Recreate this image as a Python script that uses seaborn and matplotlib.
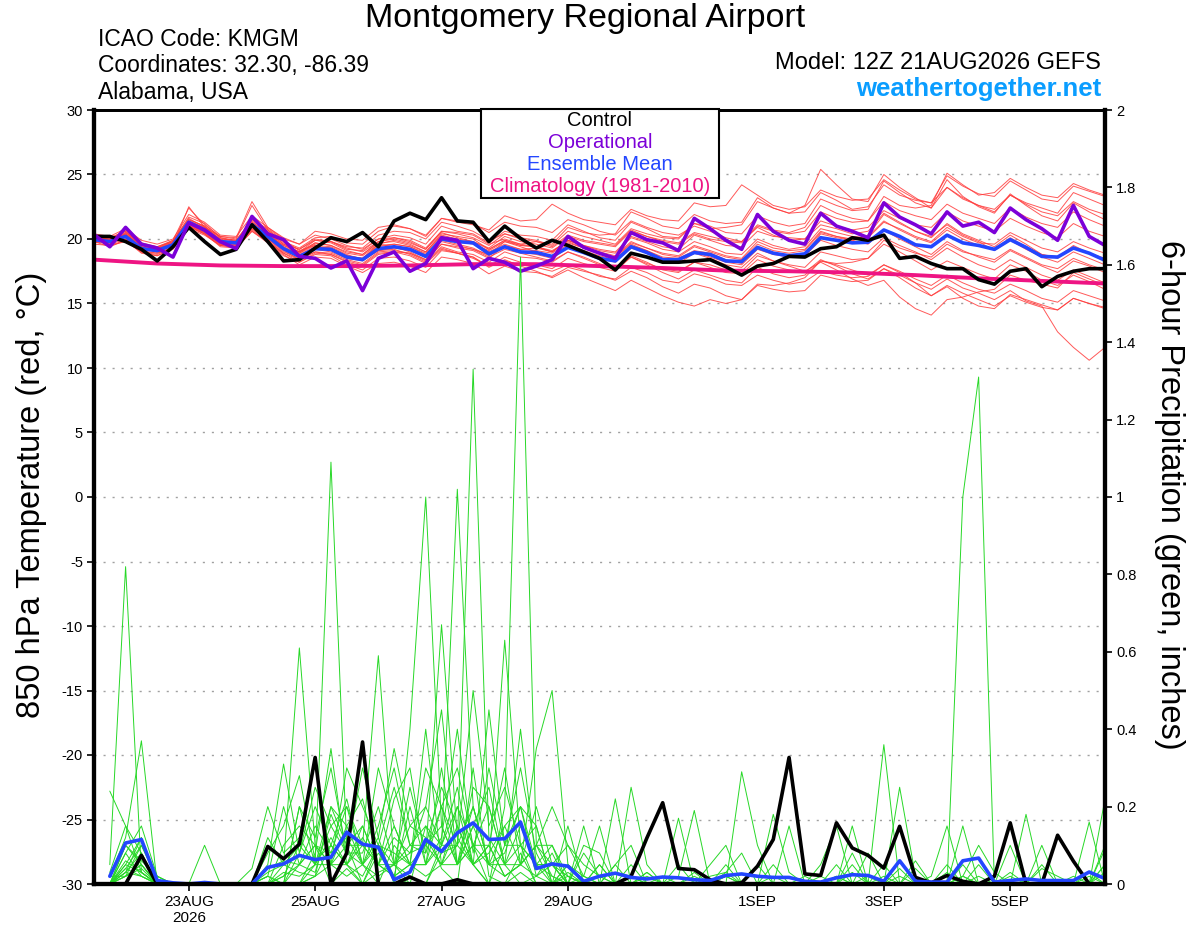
import matplotlib
matplotlib.use("Agg")
import matplotlib.pyplot as plt
from matplotlib.patches import Rectangle
import seaborn as sns
import pandas as pd

# 6-hourly valid times, GEFS 12Z 21AUG2026 run
times = pd.date_range("2026-08-21 12:00", periods=65, freq="6h")
climo_times = pd.date_range("2026-08-21 12:00", periods=17, freq="D")

# 850 hPa temperature (C)
control_t = [20.2,20.2,19.8,19.2, 18.3,19.4,20.9,19.8, 18.8,19.2,21.1,19.8, 18.3,18.4,19.3,20.1,
             19.8,20.5,19.4,21.4, 22.0,21.5,23.2,21.4, 21.3,19.8,21.0,20.05, 19.3,19.9,19.5,19.0,
             18.5,17.6,18.9,18.6, 18.2,18.2,18.3,18.4, 17.85,17.2,17.9,18.1, 18.65,18.6,19.25,19.4,
             20.1,19.9,20.3,18.5, 18.65,18.1,17.7,17.7, 16.85,16.5,17.5,17.7, 16.3,17.1,17.5,17.7, 17.7]
oper_t = [20.35,19.4,20.9,19.6, 19.3,18.6,21.25,20.7, 19.8,19.25,21.75,20.4, 19.95,18.65,18.5,17.75,
          18.3,16.0,18.5,19.0, 17.5,18.1,20.1,19.9, 17.7,18.5,18.2,17.5, 17.9,18.4,20.2,19.35,
          18.9,18.5,20.5,19.95, 19.7,19.1,21.6,20.8, 19.9,19.2,21.9,20.6, 19.9,19.6,22.0,21.0,
          20.6,20.1,22.8,21.7, 21.1,20.4,22.1,21.0, 21.3,20.5,22.4,21.5, 20.8,19.9,22.6,20.2, 19.5]
mean_t = [19.95,19.8,20.2,19.25, 19.1,19.55,21.3,20.7, 19.8,19.7,21.1,20.2, 19.25,18.65,19.25,19.2,
          18.6,18.4,19.25,19.4, 19.2,18.65,20.0,19.8, 19.7,18.85,19.4,19.0, 18.95,18.65,19.35,18.95,
          18.5,18.3,19.4,18.95, 18.4,18.4,18.95,18.8, 18.3,18.25,19.35,18.9, 18.7,18.85,20.1,19.9,
          19.7,19.75,20.7,20.2, 19.55,19.4,20.3,19.7, 19.5,19.2,19.95,19.35, 18.65,18.6,19.3,18.9, 18.35]
climo_t = [18.4,18.1,17.95,17.9,17.9,17.95,18.05,18.05,17.9,17.75,17.55,17.5,17.4,17.2,16.95,16.75,16.55]

m01 = [20.1,19.6,20.5,19.6, 19.3,19.9,21.6,20.9, 20.0,19.9,21.4,20.6, 19.6,19.0,19.9,19.8, 19.2,19.1,20.0,20.3, 20.1,19.6,21.0,20.6, 20.4,19.7,20.6,20.3, 20.2,19.9,21.1,20.6, 20.1,19.9,21.3,20.8, 20.2,20.1,21.2,21.0, 20.5,20.4,21.8,21.3, 21.0,21.2,23.1,22.6, 22.2,22.3,24.5,23.6, 22.8,22.4,24.0,23.1, 22.6,22.1,23.4,22.8, 22.4,22.0,23.6,23.1, 22.6]
m02 = [19.8,19.9,20.0,19.0, 18.9,19.3,20.9,20.4, 19.5,19.3,20.6,19.8, 18.9,18.2,18.8,18.7, 18.0,17.6,18.5,18.6, 18.3,17.8,19.1,18.9, 18.6,17.9,18.3,18.0, 17.8,17.5,18.0,17.6, 17.1,16.9,17.8,17.4, 16.8,16.6,17.3,17.0, 16.5,16.4,17.2,16.8, 16.5,16.7,17.5,17.2, 17.0,17.1,18.0,17.5, 16.9,16.4,17.2,16.6, 16.1,15.8,16.5,16.0, 15.4,15.1,16.0,15.6, 15.2]
m03 = [20.2,20.1,20.6,19.5, 19.2,19.8,21.5,21.0, 19.9,19.6,21.0,20.3, 19.5,19.0,19.6,19.8, 19.3,19.0,19.8,20.1, 19.9,19.3,20.6,20.5, 20.3,19.6,20.0,19.6, 19.4,19.0,19.9,19.4, 18.9,18.6,19.6,19.1, 18.6,18.5,19.1,18.9, 18.4,18.1,19.3,18.9, 18.6,18.8,20.4,20.1, 19.9,20.3,21.9,21.2, 20.6,20.1,21.2,20.4, 19.9,19.4,20.3,19.6, 18.8,18.6,19.5,18.9, 18.5]
m04 = [19.9,19.7,20.3,19.4, 19.0,19.5,22.5,20.9, 20.2,20.0,22.6,20.7, 19.8,19.3,20.1,20.2, 19.7,19.6,20.6,21.0, 20.8,20.2,21.6,21.4, 21.2,20.5,21.3,21.0, 20.9,20.5,21.5,21.1, 20.6,20.3,21.4,20.9, 20.5,20.3,21.0,20.6, 20.1,19.8,20.9,20.3, 19.9,20.0,21.1,20.8, 20.4,20.6,22.0,21.3, 20.6,20.2,21.1,20.3, 19.8,19.1,19.9,19.2, 18.6,18.2,19.0,18.5, 18.0]
m05 = [20.0,19.5,19.8,19.0, 18.8,19.4,21.0,20.5, 19.6,19.5,20.7,19.8, 18.8,18.0,18.6,18.5, 17.9,17.4,18.1,18.2, 17.9,17.4,18.6,18.4, 18.1,17.3,17.9,17.5, 17.4,17.1,17.8,17.5, 17.2,16.8,17.5,17.0, 16.3,15.8,16.5,16.2, 15.6,15.3,16.4,16.1, 15.9,16.0,17.2,16.9, 16.7,16.8,17.7,17.2, 16.6,16.1,16.9,16.2, 15.8,15.3,16.0,15.2, 14.8,12.8,11.6,10.6, 11.6]
m06 = [20.3,19.9,20.4,19.3, 19.0,19.7,21.2,20.6, 19.7,19.8,21.3,20.5, 19.4,18.9,19.5,19.1, 18.6,18.5,19.6,19.4, 19.0,18.4,19.6,19.3, 19.1,18.5,19.5,19.2, 19.3,19.0,19.9,19.5, 19.1,18.9,20.1,19.7, 19.2,19.0,19.8,19.4, 18.9,18.8,20.0,19.5, 19.2,19.4,20.8,20.5, 20.2,20.1,21.3,20.8, 20.2,19.8,20.9,20.2, 19.7,19.6,20.5,19.9, 19.3,19.0,19.8,19.3, 18.9]
m07 = [19.7,19.9,20.1,19.2, 19.3,19.6,21.1,20.5, 19.6,19.4,20.8,19.9, 18.9,18.4,19.0,18.8, 18.2,17.9,18.8,19.0, 18.9,18.3,19.4,19.0, 18.8,18.2,19.0,18.6, 18.5,18.2,19.0,18.6, 18.1,17.6,18.7,18.2, 17.6,17.4,18.2,18.0, 17.6,17.5,18.7,18.3, 18.0,17.8,19.0,18.7, 18.4,18.5,19.6,19.0, 18.3,17.6,18.3,17.8, 17.3,16.9,18.0,17.5, 16.8,16.4,17.2,16.7, 16.1]
m08 = [20.1,19.8,20.2,19.3, 19.1,19.5,21.2,20.6, 19.7,19.8,21.2,20.4, 19.3,18.9,19.7,19.5, 18.9,18.7,19.6,19.9, 19.6,19.0,20.4,20.2, 20.0,19.2,19.9,19.6, 19.8,19.6,20.9,20.5, 20.3,20.4,22.1,21.6, 21.0,20.8,21.9,21.4, 21.2,21.3,23.2,22.4, 22.0,22.6,25.4,24.2, 23.1,22.9,25.0,24.0, 23.2,22.4,24.6,23.3, 22.5,22.0,23.5,22.6, 21.8,21.4,22.8,22.1, 21.5]
m09 = [19.9,20.0,20.7,19.7, 19.4,19.8,21.7,21.2, 20.1,19.9,21.5,20.8, 19.9,19.1,19.5,19.4, 18.8,18.4,19.1,19.3, 19.1,18.6,19.8,19.5, 19.2,18.6,19.2,18.9, 18.6,18.3,19.0,18.5, 18.0,17.7,18.6,18.0, 17.4,16.9,17.6,17.2, 16.8,16.6,17.8,17.3, 17.0,17.2,18.3,18.0, 17.6,17.2,18.0,17.4, 16.6,15.6,16.3,15.4, 14.8,14.6,15.7,15.3, 14.9,14.5,15.4,15.0, 14.6]
m10 = [20.0,19.7,20.4,19.5, 19.2,19.7,21.4,20.8, 20.0,19.9,21.5,20.7, 19.7,19.2,20.0,19.8, 19.4,19.3,20.3,20.6, 20.5,20.0,21.3,21.0, 20.6,19.9,20.4,20.1, 19.9,19.5,20.6,20.2, 19.9,19.6,20.8,20.4, 20.1,20.0,21.2,20.8, 20.9,21.1,22.9,22.4, 22.0,22.1,23.6,23.0, 22.3,22.5,24.2,23.4, 23.0,22.8,24.9,24.1, 23.5,23.3,24.5,23.8, 23.1,22.9,24.1,23.7, 23.3]
m11 = [20.4,20.2,20.8,19.9, 19.6,20.0,21.9,21.3, 20.3,20.2,21.8,20.9, 20.1,19.6,20.3,20.0, 19.5,19.2,20.0,20.1, 19.8,19.2,20.5,20.1, 19.8,19.2,19.9,19.5, 19.4,19.0,19.9,19.5, 19.2,19.0,20.2,19.8, 19.4,19.2,20.3,19.9, 19.5,19.4,20.6,20.2, 20.1,20.0,21.4,21.0, 20.7,20.9,22.2,21.6, 21.1,20.9,22.1,21.4, 21.0,20.6,21.6,21.0, 20.5,20.1,21.2,20.6, 20.2]
m12 = [19.6,19.5,19.9,19.0, 18.7,19.2,20.8,20.3, 19.5,19.4,20.8,20.0, 19.0,18.5,19.2,19.0, 18.5,18.3,19.1,19.2, 18.8,18.2,19.3,18.9, 18.6,17.8,18.4,17.9, 17.5,17.0,17.6,17.0, 16.5,16.0,16.8,16.2, 15.6,15.1,14.8,15.3, 15.0,15.3,16.5,16.4, 16.6,17.0,18.3,18.1, 18.2,18.5,19.9,19.3, 18.9,18.6,19.6,19.0, 18.7,18.4,19.2,18.6, 18.0,17.7,18.5,18.0, 17.6]
m13 = [20.2,20.0,20.5,19.6, 19.4,19.9,22.4,21.1, 20.2,20.1,22.9,20.9, 20.0,19.6,20.6,20.4, 20.0,19.9,20.9,21.1, 20.8,20.3,21.6,21.3, 21.1,20.7,21.8,21.4, 21.5,22.7,22.0,21.5, 21.3,21.1,22.3,21.8, 21.5,21.4,22.8,22.5, 22.6,24.2,23.4,22.6, 22.3,22.5,23.8,23.3, 23.0,23.1,24.6,23.8, 23.1,22.8,24.0,23.2, 22.6,22.3,23.4,22.7, 22.1,21.8,22.9,22.3, 21.9]
m14 = [19.8,19.6,20.0,19.1, 18.9,19.4,21.0,20.4, 19.5,19.6,21.0,20.1, 19.2,18.6,19.4,19.3, 18.7,18.5,19.4,19.6, 19.4,18.8,20.0,19.8, 19.6,19.1,19.8,19.4, 19.0,18.7,19.6,19.1, 18.7,18.4,19.5,19.1, 18.5,18.3,19.0,18.6, 18.2,18.0,19.2,18.8, 18.6,18.7,19.9,19.5, 19.2,19.0,20.1,19.5, 19.0,18.4,19.3,18.6, 18.0,17.6,18.4,17.8, 17.2,16.8,17.6,17.1, 16.6]
m15 = [20.0,19.8,20.3,19.4, 19.1,19.6,21.3,20.7, 19.8,19.7,21.1,20.2, 19.2,18.7,19.3,19.2, 18.6,18.4,19.3,19.4, 19.2,18.7,19.9,19.6, 19.3,18.7,19.4,19.0, 18.8,18.5,19.3,18.9, 18.5,18.2,19.3,18.9, 18.3,18.1,18.9,18.5, 18.0,17.8,18.9,18.3, 17.9,17.5,18.2,17.6, 16.9,16.4,16.8,15.5, 14.6,14.1,15.3,15.5, 15.9,16.1,17.2,16.8, 16.5,16.2,17.4,16.9, 16.4]
m16 = [20.1,20.0,20.6,19.6, 19.3,19.8,21.5,21.0, 20.1,19.8,21.3,20.5, 19.6,19.2,19.9,19.7, 19.1,18.8,19.7,19.8, 19.5,19.0,20.3,20.0, 19.8,19.3,20.2,19.8, 19.6,19.3,20.2,19.8, 19.6,19.4,20.6,20.2, 19.9,19.7,20.5,20.2, 19.9,19.8,21.1,20.7, 20.5,20.9,22.6,22.0, 21.6,21.4,22.9,22.2, 21.8,21.5,22.7,22.0, 21.6,21.2,22.4,21.7, 21.2,20.9,22.1,21.5, 21.0]
m17 = [19.9,19.7,20.2,19.2, 19.0,19.5,21.1,20.5, 19.6,19.5,20.9,20.0, 19.1,18.4,19.0,18.9, 18.4,18.1,19.0,19.1, 18.9,18.4,19.6,19.4, 19.2,18.8,19.8,19.5, 19.4,19.1,19.8,19.3, 18.9,18.6,19.7,19.3, 18.9,18.7,19.5,19.1, 18.7,18.5,19.8,19.3, 19.1,19.2,20.6,20.2, 19.9,19.6,20.7,20.0, 19.4,18.8,19.8,19.1, 18.6,18.2,19.1,18.5, 17.9,17.4,18.3,17.9, 17.4]
m18 = [20.0,19.9,20.4,19.5, 19.2,19.7,21.4,20.9, 19.9,19.8,21.2,20.4, 19.5,19.0,19.7,19.5, 19.0,18.8,19.8,20.0, 19.7,19.2,20.6,20.4, 20.1,19.5,20.4,20.0, 19.8,19.4,20.3,19.9, 19.7,19.5,20.7,20.2, 19.8,19.6,20.4,20.0, 19.8,19.7,21.0,20.6, 20.4,20.6,22.1,21.6, 21.3,21.4,23.3,22.6, 22.4,22.6,25.1,24.2, 23.4,23.6,24.7,24.0, 23.4,23.2,24.3,23.8, 23.4]
m19 = [19.8,19.4,19.9,18.9, 18.7,19.3,21.0,20.4, 19.4,19.3,20.6,19.7, 18.7,18.2,18.9,18.8, 18.3,18.0,18.9,19.0, 18.7,18.1,19.2,18.9, 18.5,17.9,18.6,18.2, 18.0,17.7,18.5,18.1, 17.8,17.5,18.6,18.1, 17.7,17.5,18.2,17.8, 17.4,17.3,18.4,17.9, 17.6,17.4,18.4,17.9, 17.3,16.9,17.7,17.0, 16.2,15.6,16.4,15.8, 15.3,14.8,15.6,15.1, 14.7,14.5,15.4,15.0, 14.7]
m20 = [20.0,19.9,20.3,19.4, 19.1,19.6,21.3,20.7, 19.8,19.6,21.0,20.2, 19.3,18.8,19.4,19.3, 18.7,18.5,19.5,19.6, 19.4,18.9,20.2,19.9, 19.7,19.0,19.6,19.2, 19.1,18.9,19.7,19.3, 19.0,18.7,19.8,19.3, 18.8,18.6,19.4,19.0, 18.6,18.4,19.6,19.1, 18.9,19.1,20.5,20.2, 20.0,20.2,21.4,20.7, 20.1,19.7,20.7,20.0, 19.5,19.2,20.1,19.4, 18.8,18.5,19.4,18.9, 18.4]
temp_members = [m01, m02, m03, m04, m05, m06, m07, m08, m09, m10,
                m11, m12, m13, m14, m15, m16, m17, m18, m19, m20]

# 6-hour precipitation (inches), valid at times[1:]
control_p = [0,0,0.074,0, 0,0,0,0, 0,0,0.097,0.065, 0.103,0.327,0,0.08, 0.367,0,0,0.018, 0,0,0.011,0,
             0,0,0,0, 0,0,0,0, 0,0.02,0.119,0.21, 0.04,0.037,0.011,0, 0.003,0.046,0.115,0.327,
             0.026,0.022,0.158,0.093, 0.074,0.041,0.149,0.017, 0.003,0.022,0.007,0, 0.02,0.158,0,0, 0.126,0.059,0,0]
mean_p = [0.02,0.106,0.115,0.009, 0.003,0,0.004,0, 0,0,0.043,0.052, 0.074,0.063,0.069,0.134, 0.103,0.095,0.011,0.031,
          0.115,0.084,0.132,0.158, 0.115,0.117,0.16,0.04, 0.052,0.046,0.007,0.02, 0.028,0.017,0.013,0.018,
          0.016,0.011,0.009,0.022, 0.026,0.02,0.017,0.017, 0.007,0.005,0.016,0.024, 0.022,0.007,0.06,0.007,
          0.005,0.005,0.06,0.067, 0.005,0.009,0.013,0.009, 0.009,0.009,0.031,0.014]

p01 = [0.05,0.82,0.03,0, 0,0,0,0, 0,0,0.12,0.05, 0.61,0.1,0,0.04, 0,0.08,0.02,0, 0,0.1,0.25,0.05, 0,0,0.03,0, 0,0,0,0, 0,0.05,0,0, 0,0,0,0.02, 0,0,0,0, 0,0,0,0.03, 0,0,0.04,0, 0,0,0,0, 0,0,0,0, 0,0,0.03,0]
p02 = [0.02,0.12,0.37,0, 0,0,0,0, 0,0.04,0.2,0.08, 0.12,0.05,1.09,0.1, 0,0.03,0.05,0, 0.15,0.04,0,0.3, 0.02,0,0.08,0, 0,0.02,0,0, 0.05,0,0,0, 0,0.03,0,0, 0,0,0,0.15, 0,0,0.02,0, 0,0,0,0, 0,0,0.02,0, 0,0,0,0, 0,0,0,0]
p03 = [0.24,0.15,0.03,0, 0,0,0.1,0, 0,0,0.05,0.31, 0.08,0.25,0.15,0.2, 0.1,0.59,0.05,0.02, 0,0.08,0.1,1.33, 0.12,0.05,0,0.02, 0.08,0,0,0, 0,0.02,0,0, 0,0,0,0, 0,0,0.05,0, 0,0,0,0, 0.02,0,0,0, 0,0,0,0, 0,0,0,0.05, 0,0,0,0]
p04 = [0,0.08,0.15,0.02, 0,0,0,0, 0,0,0.02,0, 0.2,0.12,0.3,0.08, 0.3,0.12,0,0.4, 1.0,0.15,0.05,0.1, 0,0.2,1.62,0.1, 0.05,0,0,0.02, 0,0,0,0, 0,0,0,0, 0,0,0,0, 0,0,0,0, 0,0.02,0,0.04, 0,0,0,0, 0,0.03,0,0, 0,0,0,0]
p05 = [0,0.02,0.1,0.02, 0,0,0,0, 0,0,0.08,0.15, 0.28,0.06,0.1,0.22, 0.05,0.15,0.3,0.1, 0.08,0.67,0.12,0.05, 0.45,0.1,0.3,0.08, 0,0.05,0.02,0, 0.22,0,0,0, 0,0,0,0.02, 0,0,0,0, 0,0,0,0, 0,0.36,0,0, 0,0,0.02,0, 0,0,0,0, 0,0,0,0.05]
p06 = [0,0.1,0.05,0, 0,0,0,0, 0,0,0,0.02, 0.1,0.32,0.05,0.15, 0.22,0.05,0.12,0.08, 0.2,0.1,1.02,0.2, 0.05,0.63,0.1,0.05, 0.1,0,0.02,0.15, 0,0,0.03,0, 0.17,0,0,0, 0,0,0,0, 0,0,0,0.15, 0,0,0,0, 0,0,0.05,0, 0,0,0,0, 0,0.02,0,0]
p07 = [0,0.05,0.12,0, 0,0,0,0, 0,0,0.04,0.06, 0.05,0.03,0.18,0.08, 0.08,0.2,0.05,0.15, 0.12,0.05,0.2,0.1, 0.1,0.02,0.05,0.35, 0.5,0.05,0,0, 0,0,0,0, 0,0.02,0,0, 0.29,0.1,0,0, 0,0,0,0, 0,0,0,0, 0,0,0,0, 0,0,0,0, 0,0,0,0.22]
p08 = [0.03,0.15,0.08,0, 0,0,0,0, 0,0,0,0.1, 0.15,0.1,0.05,0.3, 0.2,0.1,0.08,0.05, 0.3,0.2,0.1,0.05, 0.08,0.15,0.05,0.02, 0.05,0.02,0,0, 0,0.25,0.05,0, 0,0,0,0, 0,0,0.18,0.03, 0,0,0.02,0, 0,0,0.25,0.02, 0,0,0,0, 0,0,0,0.1, 0,0,0,0]
p09 = [0,0.02,0.05,0, 0,0,0,0, 0,0,0,0, 0,0.08,0.35,0.05, 0.12,0.05,0.22,0.3, 0.05,0.3,0.05,0.25, 0.2,0.05,0.1,0, 0,0.03,0,0, 0,0,0,0, 0.02,0.19,0,0, 0,0,0,0, 0,0,0,0, 0,0,0,0, 0,0,1.0,1.31, 0,0,0,0, 0,0,0,0]
p10 = [0,0.08,0.02,0, 0,0,0,0, 0,0,0.02,0.2, 0.05,0.15,0.08,0.12, 0.05,0.3,0.15,0.05, 0.4,0.05,0.15,0.05, 0.1,0.3,0.05,0.1, 0.02,0,0.15,0, 0,0,0,0, 0,0,0,0, 0,0.05,0,0, 0,0,0,0.05, 0,0,0,0, 0.02,0.15,0,0, 0,0,0.18,0, 0,0,0,0]
p11 = [0,0.03,0.12,0, 0,0,0,0, 0,0,0,0, 0.2,0.05,0.12,0.05, 0.15,0.05,0.02,0.2, 0.05,0.12,0.4,0.08, 0.3,0.1,0.2,0.05, 0.05,0.1,0.02,0, 0,0,0,0.02, 0,0,0,0.05, 0,0,0,0, 0,0,0,0, 0.08,0,0,0, 0,0,0,0, 0,0,0,0, 0,0,0,0.09]
p12 = [0,0.05,0.03,0, 0,0,0,0, 0,0,0.03,0.05, 0.03,0.02,0.2,0.15, 0.05,0.12,0.35,0.15, 0.2,0.45,0.05,0.1, 0.05,0.15,0.2,0.02, 0,0.05,0,0, 0,0,0.03,0, 0,0,0,0, 0,0,0,0, 0,0,0,0, 0,0,0,0, 0,0.05,0,0.02, 0,0.1,0,0, 0,0,0.16,0]
p13 = [0,0.1,0.06,0.02, 0,0,0,0, 0,0,0,0, 0.08,0.2,0.1,0.05, 0.1,0.05,0.05,0.1, 0.15,0.1,0.1,0.5, 0.15,0.25,0.1,0.05, 0,0,0,0.05, 0,0,0.02,0, 0,0,0,0, 0,0,0,0, 0,0.05,0.15,0, 0,0,0,0, 0,0,0,0, 0,0,0,0, 0,0,0,0.05]
p14 = [0,0.04,0.02,0, 0,0,0,0, 0,0,0,0.05, 0.1,0.05,0.2,0.1, 0.1,0.05,0.15,0.05, 0.05,0.2,0.3,0.1, 0.2,0.05,0.4,0.05, 0.05,0,0.1,0.08, 0,0,0,0, 0,0,0.05,0.1, 0,0,0,0, 0,0,0,0, 0,0,0,0, 0,0,0,0, 0,0,0,0, 0,0,0,0]
p15 = [0,0.06,0.03,0, 0,0,0,0, 0,0,0,0, 0,0.02,0.05,0.02, 0.05,0.02,0.05,0.08, 0.1,0.05,0.05,0.15, 0.05,0.05,0.05,0.1, 0.2,0.1,0.05,0.02, 0.03,0.02,0,0, 0,0,0.02,0.03, 0.08,0,0,0, 0,0,0,0, 0,0,0,0, 0,0.03,0,0, 0,0,0,0, 0,0,0,0]
p16 = [0.02,0.02,0.05,0, 0,0,0,0, 0,0,0,0, 0.05,0.1,0.05,0.05, 0,0.1,0.25,0.1, 0.1,0.25,0.15,0.05, 0,0.1,0.1,0.15, 0,0.15,0,0, 0.05,0.1,0,0, 0.05,0,0,0, 0,0,0,0, 0,0,0.05,0, 0,0,0,0, 0,0.02,0,0.05, 0,0.02,0,0, 0,0,0,0.03]
p17 = [0,0.03,0.08,0, 0,0,0,0, 0,0,0.02,0, 0,0.05,0.15,0.08, 0.05,0.1,0.05,0.25, 0.08,0.2,0.05,0.15, 0.25,0.05,0.15,0.05, 0.02,0,0,0.05, 0,0,0,0, 0,0,0,0, 0,0,0.02,0, 0,0,0,0.08, 0,0.05,0,0, 0,0,0,0, 0,0,0,0, 0,0,0,0]
p18 = [0,0.02,0.04,0, 0,0,0,0, 0,0,0,0.02, 0.05,0.1,0.08,0.2, 0.05,0,0.1,0.05, 0.1,0.15,0.05,0.2, 0.05,0.08,0.2,0.15, 0,0,0.08,0.02, 0,0.02,0,0, 0,0,0,0, 0,0,0,0, 0,0.02,0,0, 0,0,0.02,0, 0,0,0.02,0.1, 0.03,0,0,0, 0,0,0,0]
p19 = [0,0.03,0.02,0, 0,0,0,0, 0,0,0,0, 0,0.02,0.1,0.05, 0.02,0.1,0.02,0.05, 0.05,0.1,0.2,0.05, 0.1,0.02,0.05,0.2, 0.05,0,0,0, 0,0,0,0, 0,0,0,0, 0,0,0,0, 0,0,0,0, 0,0,0,0.06, 0,0,0,0, 0,0,0,0.04, 0.02,0,0,0.1]
p20 = [0,0.04,0.1,0.01, 0,0,0,0, 0,0,0,0.03, 0.02,0.05,0.05,0.1, 0.15,0.05,0.02,0.05, 0.02,0.05,0.1,0.2, 0.05,0.02,0.05,0.1, 0.1,0.02,0,0, 0,0,0,0, 0,0,0,0.03, 0,0,0,0, 0.02,0,0,0, 0,0,0,0, 0,0,0.15,0, 0,0,0,0, 0,0,0.02,0]
precip_members = [p01, p02, p03, p04, p05, p06, p07, p08, p09, p10,
                  p11, p12, p13, p14, p15, p16, p17, p18, p19, p20]

xtick_dates = pd.to_datetime(["2026-08-23", "2026-08-25", "2026-08-27", "2026-08-29",
                              "2026-09-01", "2026-09-03", "2026-09-05"])
xtick_labels = ["23AUG\n2026", "25AUG", "27AUG", "29AUG", "1SEP", "3SEP", "5SEP"]

sns.set_style("ticks")
plt.rcParams["font.family"] = ["Liberation Sans", "DejaVu Sans"]
plt.rcParams["text.color"] = "black"
plt.rcParams["axes.labelcolor"] = "black"
plt.rcParams["xtick.color"] = "black"
plt.rcParams["ytick.color"] = "black"

RED = "#ff3c3c"
GREEN = "#27d827"
PURPLE = "#7c00d8"
BLUE = "#2346ff"
PINK = "#ee1483"

# long-form tables for the ensemble members
t_rows = [(times[j], v, k) for k, mem in enumerate(temp_members) for j, v in enumerate(mem[:len(times)])]
df_t = pd.DataFrame(t_rows, columns=["time", "temp", "member"])
p_rows = [(times[j + 1], v, k) for k, mem in enumerate(precip_members) for j, v in enumerate(mem[:len(times) - 1])]
df_p = pd.DataFrame(p_rows, columns=["time", "precip", "member"])

fig = plt.figure(figsize=(12, 9.27), dpi=100)
ax = fig.add_axes([94 / 1200, 1 - 884 / 927, 1011 / 1200, 774 / 927])
ax2 = ax.twinx()
ax2.set_position(ax.get_position())

# temperature
sns.lineplot(data=df_t, x="time", y="temp", units="member", estimator=None,
             color=RED, lw=0.7, alpha=0.85, ax=ax, legend=False)
sns.lineplot(x=climo_times, y=climo_t, color=PINK, lw=2.8, ax=ax)
sns.lineplot(x=times[:len(mean_t)], y=mean_t, color=BLUE, lw=2.6, ax=ax)
sns.lineplot(x=times[:len(control_t)], y=control_t, color="black", lw=2.6, ax=ax)
sns.lineplot(x=times[:len(oper_t)], y=oper_t, color=PURPLE, lw=2.6, ax=ax)

# precipitation
sns.lineplot(data=df_p, x="time", y="precip", units="member", estimator=None,
             color=GREEN, lw=0.7, ax=ax2, legend=False)
sns.lineplot(x=times[1:1 + len(control_p)], y=control_p, color="black", lw=2.6, ax=ax2)
sns.lineplot(x=times[1:1 + len(mean_p)], y=mean_p, color=BLUE, lw=2.6, ax=ax2)

ax.set_xlim(times[0], times[-1])
ax.set_ylim(-30, 30)
ax2.set_ylim(0, 2)

ax.set_yticks(range(-30, 31, 5))
ax.set_yticklabels([str(v) for v in range(-30, 31, 5)], fontsize=10.5)
rticks = [i / 5 for i in range(11)]
ax2.set_yticks(rticks)
ax2.set_yticklabels(["0", "0.2", "0.4", "0.6", "0.8", "1", "1.2", "1.4", "1.6", "1.8", "2"], fontsize=10.5)
ax.set_xticks(xtick_dates)
ax.set_xticklabels(xtick_labels, fontsize=11)
ax.minorticks_off()

ax.yaxis.grid(True, color="#a0a0a0", linestyle=(0, (1.5, 5)), lw=1)
ax.xaxis.grid(False)
ax.set_xlabel("")
ax.set_ylabel("")
ax2.set_xlabel("")
ax2.set_ylabel("")

for a in (ax, ax2):
    a.tick_params(direction="out", length=5, width=1.2, color="black", labelcolor="black", pad=3)
    for side, w in (("left", 3), ("bottom", 3), ("right", 3), ("top", 2)):
        a.spines[side].set_visible(True)
        a.spines[side].set_linewidth(w)
        a.spines[side].set_color("black")

# axis titles
fig.text(32 / 1200, 1 - 495 / 927, "850 hPa Temperature (red, °C)", rotation=90,
         ha="center", va="center", fontsize=23.5)
fig.text(1170 / 1200, 1 - 495 / 927, "6-hour Precipitation (green, inches)", rotation=270,
         ha="center", va="center", fontsize=23.5)

# header
fig.text(0.488, 1 - 19 / 927, "Montgomery Regional Airport", ha="center", va="center", fontsize=24.5)
for k, line in enumerate(["ICAO Code: KMGM", "Coordinates: 32.30, -86.39", "Alabama, USA"]):
    fig.text(98 / 1200, 1 - (39 + 26.5 * k) / 927, line, ha="left", va="center", fontsize=16.5)
fig.text(1101 / 1200, 1 - 63 / 927, "Model: 12Z 21AUG2026 GEFS", ha="right", va="center", fontsize=17)
fig.text(1101 / 1200, 1 - 89 / 927, "weathertogether.net", ha="right", va="center",
         fontsize=18.5, fontweight="bold", color="#0a9dff")

# legend box
box = Rectangle((481 / 1200, 1 - 198 / 927), 238 / 1200, 89 / 927, transform=fig.transFigure,
                facecolor="white", edgecolor="black", lw=1.5, zorder=20, clip_on=False)
ax2.add_patch(box)
for (label, col), yy in zip([("Control", "black"), ("Operational", PURPLE),
                             ("Ensemble Mean", BLUE), ("Climatology (1981-2010)", PINK)],
                            [121, 142, 164, 186]):
    ax2.text(600 / 1200, 1 - yy / 927, label, transform=fig.transFigure, ha="center", va="center",
             fontsize=14.5, color=col, zorder=21, clip_on=False)

fig.savefig("out.png", dpi=100)
